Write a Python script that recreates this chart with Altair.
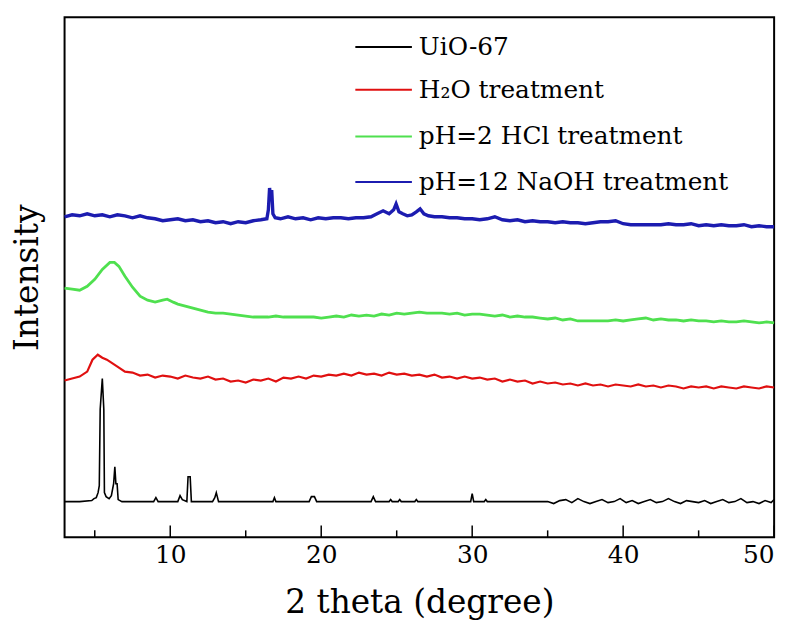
import altair as alt
import pandas as pd

# ---------------- data (intensity in arbitrary units) ----------------
names = ["UiO-67", "H\u2082O treatment", "pH=2 HCl treatment", "pH=12 NaOH treatment"]
colors = ["#000000", "#e01010", "#4fe04f", "#1c1cb0"]
widths = [1.6, 3.4, 2.2, 2.6]

uio_x = [3.0, 4.0, 4.8, 4.95, 5.1, 5.22, 5.3, 5.36, 5.5, 5.6, 5.64, 5.75, 5.95, 6.1, 6.25, 6.33, 6.4,
         6.48, 6.55, 6.8, 8.9, 9.05, 9.2, 10.5, 10.65, 10.8, 11.1, 11.18, 11.32, 11.4, 12.8, 12.95,
         13.05, 13.2, 16.8, 16.9, 17.0, 19.2, 19.35, 19.55, 19.7, 23.3, 23.45, 23.6, 24.5, 24.6, 24.7,
         25.1, 25.2, 25.3, 26.2, 26.3, 26.4, 29.9, 30.0, 30.1, 30.8, 30.9, 31.0, 35.0, 35.4, 35.8,
         36.2, 36.6, 37.0, 37.4, 37.8, 38.2, 38.6, 39.0, 39.4, 39.8, 40.2, 40.6, 41.0, 41.4, 41.8,
         42.2, 42.6, 43.0, 43.4, 43.8, 44.2, 44.6, 45.0, 45.4, 45.8, 46.2, 46.6, 47.0, 47.4, 47.8,
         48.2, 48.6, 49.0, 49.4, 49.8, 50.0]
uio_y = [36, 36, 37, 39, 40, 45, 52, 129, 160, 129, 45, 41, 39, 42, 54, 71, 54,
         54, 38, 36, 36, 40, 36, 36, 42, 38, 36, 61, 61, 36, 36, 40,
         45, 36, 36, 40, 36, 36, 41, 41, 36, 36, 41, 36, 36, 38, 36,
         36, 38, 36, 36, 38, 36, 36, 44, 36, 36, 38, 36, 36, 34, 37,
         38, 35, 39, 36, 34, 36, 38, 35, 36, 39, 35, 37, 34, 36, 38, 35,
         36, 39, 36, 34, 37, 36, 35, 37, 34, 36, 38, 35, 36, 39, 35,
         36, 34, 37, 35, 38, 36]

h2o_x = [3.0, 3.5, 4.0, 4.5, 4.85, 5.2, 5.5, 5.8, 6.0, 6.5, 7.0, 7.5, 8.0, 8.5, 9.0, 9.5, 10.0,
         10.5, 11.0, 11.5, 12.0, 12.5, 13.0, 13.5, 14.0, 14.5, 15.0, 15.5, 16.0, 16.5, 17.0, 17.5,
         18.0, 18.5, 19.0, 19.5, 20.0, 20.5, 21.0, 21.5, 22.0, 22.5, 23.0, 23.5, 24.0, 24.5, 25.0,
         25.5, 26.0, 26.5, 27.0, 27.5, 28.0, 28.5, 29.0, 29.5, 30.0, 30.5, 31.0, 31.5, 32.0, 32.5,
         33.0, 33.5, 34.0, 34.5, 35.0, 35.5, 36.0, 36.5, 37.0, 37.5, 38.0, 38.5, 39.0, 39.5, 40.0,
         40.5, 41.0, 41.5, 42.0, 42.5, 43.0, 43.5, 44.0, 44.5, 45.0, 45.5, 46.0, 46.5, 47.0, 47.5,
         48.0, 48.5, 49.0, 49.5, 50.0]
h2o_y = [158, 160, 162, 167, 179, 184, 181, 179, 177, 172, 167, 166, 163, 164, 161, 163, 162,
         160, 163, 161, 160, 162, 159, 160, 157, 158, 156, 159, 158, 160, 157, 161,
         160, 162, 160, 163, 162, 164, 163, 165, 163, 166, 164, 165, 163, 166, 164,
         165, 163, 164, 162, 164, 161, 162, 160, 162, 160, 161, 159, 160, 157, 159,
         157, 158, 155, 157, 155, 156, 154, 155, 153, 155, 153, 154, 152, 154, 153,
         152, 154, 152, 153, 151, 153, 152, 150, 152, 151, 152, 150, 152, 151, 150,
         152, 151, 150, 152, 151]

hcl_x = [3.0, 3.5, 4.0, 4.5, 5.0, 5.5, 6.0, 6.3, 6.6, 7.0, 7.5, 8.0, 8.5, 9.0, 9.5, 9.8, 10.2,
         10.5, 11.0, 11.5, 12.0, 12.5, 13.0, 13.5, 14.0, 14.5, 15.0, 15.5, 16.0, 16.5, 17.0, 17.5,
         18.0, 18.5, 19.0, 19.5, 20.0, 20.5, 21.0, 21.5, 22.0, 22.5, 23.0, 23.5, 24.0, 24.5, 25.0,
         25.5, 26.0, 26.5, 27.0, 27.5, 28.0, 28.5, 29.0, 29.5, 30.0, 30.5, 31.0, 31.5, 32.0, 32.5,
         33.0, 33.5, 34.0, 34.5, 35.0, 35.5, 36.0, 36.5, 37.0, 37.5, 38.0, 38.5, 39.0, 39.5, 40.0,
         40.5, 41.0, 41.5, 42.0, 42.5, 43.0, 43.5, 44.0, 44.5, 45.0, 45.5, 46.0, 46.5, 47.0, 47.5,
         48.0, 48.5, 49.0, 49.5, 50.0]
hcl_y = [251, 250, 249, 253, 260, 270, 277, 277, 273, 263, 252, 243, 239, 237, 239, 240, 237,
         235, 233, 231, 229, 227, 226, 226, 225, 224, 223, 222, 222, 222, 223, 222,
         222, 222, 222, 222, 221, 222, 223, 222, 224, 223, 224, 223, 225, 224, 226,
         225, 226, 227, 226, 226, 226, 225, 226, 224, 225, 225, 224, 223, 224, 222,
         223, 222, 222, 221, 220, 221, 219, 220, 218, 218, 218, 218, 218, 219, 218,
         219, 220, 221, 219, 220, 219, 219, 218, 219, 218, 218, 217, 218, 217, 217,
         218, 217, 216, 217, 216]

naoh_x = [3.0, 3.5, 4.0, 4.5, 5.0, 5.5, 6.0, 6.5, 7.0, 7.5, 8.0, 8.5, 9.0, 9.5, 10.0, 10.5, 11.0,
          11.5, 12.0, 12.5, 13.0, 13.5, 14.0, 14.5, 15.0, 15.5, 16.0, 16.4, 16.5, 16.58, 16.65,
          16.72, 16.8, 16.95, 17.3, 17.8, 18.3, 18.8, 19.3, 19.8, 20.3, 20.8, 21.3, 21.8, 22.3,
          22.8, 23.3, 23.7, 24.1, 24.5, 24.8, 24.96, 25.15, 25.4, 25.7, 26.0, 26.3, 26.55, 26.8,
          27.1, 27.5, 28.0, 28.5, 29.0, 29.5, 30.0, 30.5, 31.0, 31.5, 32.0, 32.5, 33.0, 33.5, 34.0,
          34.5, 35.0, 35.5, 36.0, 36.5, 37.0, 37.5, 38.0, 38.5, 39.0, 39.5, 40.0, 40.5, 41.0, 41.5,
          42.0, 42.5, 43.0, 43.5, 44.0, 44.5, 45.0, 45.5, 46.0, 46.5, 47.0, 47.5, 48.0, 48.5, 49.0,
          49.5, 50.0]
naoh_y = [323, 325, 324, 326, 324, 325, 323, 325, 324, 322, 324, 322, 321, 319, 320, 321, 319,
          320, 318, 319, 317, 318, 316, 318, 317, 319, 320, 321, 330, 352, 340,
          350, 326, 322, 321, 323, 321, 322, 320, 322, 321, 322, 322, 321, 322,
          322, 323, 326, 329, 326, 330, 336, 328, 326, 324, 325, 328, 331, 326,
          324, 323, 323, 322, 322, 321, 321, 320, 321, 323, 320, 319, 320, 318, 319,
          318, 318, 317, 318, 317, 317, 316, 317, 318, 318, 319, 316, 315, 315, 315,
          315, 315, 316, 315, 315, 316, 314, 315, 314, 315, 314, 314, 315, 313, 314,
          313, 313]

major_ticks = [10, 20, 30, 40, 50]
minor_ticks = [5, 15, 25, 35, 45]

# ---------------- build table ----------------
rows = []
for name, xs, ys in zip(names, [uio_x, h2o_x, hcl_x, naoh_x], [uio_y, h2o_y, hcl_y, naoh_y]):
    for xv, yv in zip(xs, ys):
        rows.append({"series": name, "theta": xv, "intensity": yv})
df = pd.DataFrame(rows)

FONT = "DejaVu Serif"
W, H = 715, 524

xscale = alt.Scale(domain=[3, 50], nice=False, zero=False)
yscale = alt.Scale(domain=[0, 524], nice=False, zero=False)
xaxis = alt.Axis(values=major_ticks, format="d", title="2 theta (degree)", ticks=False,
                 domain=False, grid=False, labelFontSize=25, titleFontSize=33,
                 labelPadding=5, titlePadding=20)

lines = alt.Chart(df).mark_line(interpolate="linear").encode(
    x=alt.X("theta:Q", scale=xscale, axis=xaxis),
    y=alt.Y("intensity:Q", scale=yscale,
            axis=alt.Axis(title="Intensity", labels=False, ticks=False, domain=False, grid=False,
                          titleFontSize=33, titlePadding=20)),
    color=alt.Color("series:N", scale=alt.Scale(domain=names, range=colors), legend=None),
    strokeWidth=alt.StrokeWidth("series:N", scale=alt.Scale(domain=names, range=widths), legend=None),
    order=alt.Order("theta:Q"),
)

major = alt.Chart(pd.DataFrame({"theta": major_ticks})).mark_rule(color="black", strokeWidth=1.5).encode(
    x=alt.X("theta:Q", scale=xscale, axis=xaxis), y=alt.value(H), y2=alt.value(H - 12))
minor = alt.Chart(pd.DataFrame({"theta": minor_ticks})).mark_rule(color="black", strokeWidth=1.5).encode(
    x=alt.X("theta:Q", scale=xscale, axis=xaxis), y=alt.value(H), y2=alt.value(H - 7))

legend_layers = []
leg_y = [30, 73, 120, 166]
for i, name in enumerate(names):
    one = pd.DataFrame({"series": [name]})
    legend_layers.append(
        alt.Chart(one).mark_rule(strokeWidth=2, color=colors[i]).encode(
            x=alt.value(293), x2=alt.value(350), y=alt.value(leg_y[i])))
    legend_layers.append(
        alt.Chart(one).mark_text(align="left", baseline="middle", font=FONT, fontSize=25,
                                 color="black").encode(
            x=alt.value(357), y=alt.value(leg_y[i]), text="series:N"))

chart = alt.layer(lines, major, minor, *legend_layers).properties(
    width=W, height=H,
    autosize=alt.AutoSizeParams(type="none"),
    padding={"left": 57, "top": 7, "right": 16, "bottom": 90},
    background="white",
).configure_axis(
    labelFont=FONT, titleFont=FONT, labelColor="black", titleColor="black",
    titleFontWeight="normal",
).configure_view(stroke="black", strokeWidth=2)

chart.save("out.html", embed_options={"renderer": "svg", "actions": False})
